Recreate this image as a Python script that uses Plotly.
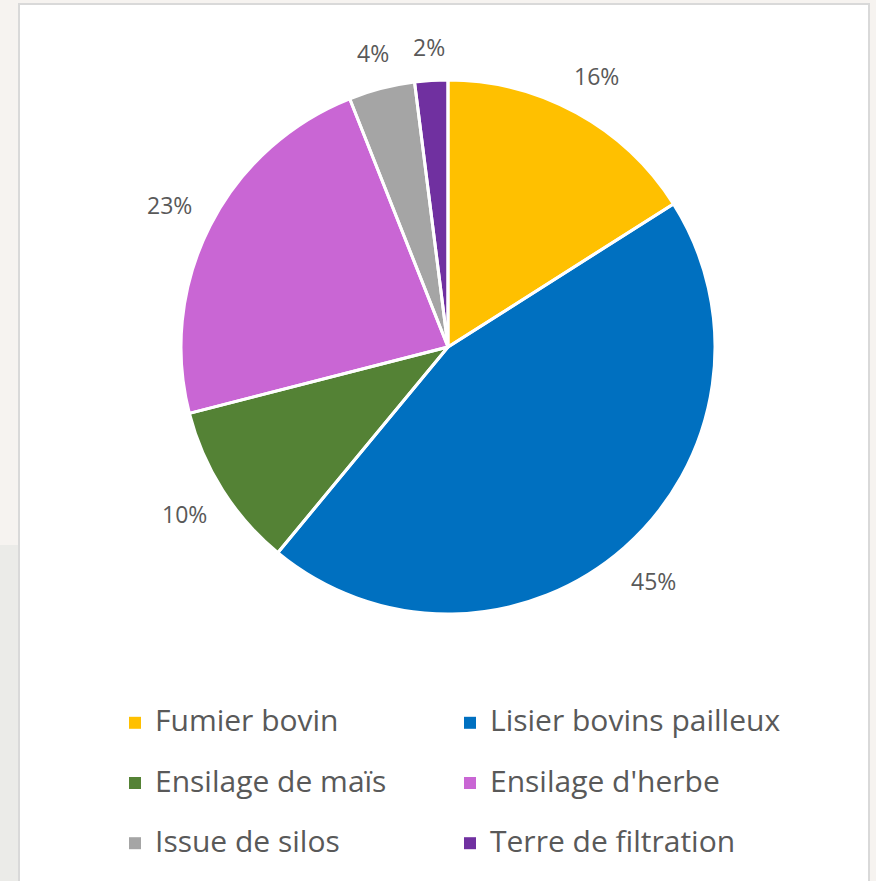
import math
import plotly.graph_objects as go

# Composition of the feedstock mix (share of total, %)
categories = [
    "Fumier bovin",
    "Lisier bovins pailleux",
    "Ensilage de maïs",
    "Ensilage d'herbe",
    "Issue de silos",
    "Terre de filtration",
]
shares = [16, 45, 10, 23, 4, 2]
slice_colors = ["#FFC000", "#0070C0", "#548235", "#C966D4", "#A5A5A5", "#7030A0"]

W, H = 876, 881
cx, cy, r = 448, 347, 267  # pie centre and radius in pixels
TEXT_GREY = "#595959"
FONT = "Open Sans, sans-serif"

pie_domain = dict(
    x=[(cx - r) / W, (cx + r) / W],
    y=[(H - cy - r) / H, (H - cy + r) / H],
)

# Legend entries: 30px text on a taller (two-line) row so rows sit 60px apart
legend_names = [
    f'<span style="font-size:30px">{c}</span><br> ' for c in categories
]

fig = go.Figure()

# filled slices (these also feed the legend, with full-size swatches)
fig.add_trace(
    go.Pie(
        labels=legend_names,
        values=shares,
        sort=False,
        direction="clockwise",
        rotation=0,
        marker=dict(colors=slice_colors, line=dict(width=0)),
        textinfo="none",
        domain=pie_domain,
        hoverinfo="skip",
    )
)

# white separators between the slices
fig.add_trace(
    go.Pie(
        labels=categories,
        values=shares,
        sort=False,
        direction="clockwise",
        rotation=0,
        marker=dict(colors=["rgba(0,0,0,0)"] * len(shares), line=dict(color="white", width=3)),
        textinfo="none",
        domain=pie_domain,
        hoverinfo="skip",
        showlegend=False,
    )
)

# Percentage labels placed just outside each slice, along its mid-angle
total = sum(shares)
label_size = 23
gap = 19
annotations = []
cum = 0.0
for v in shares:
    mid = math.radians((cum + v / 2) / total * 360.0)
    cum += v
    s, c = math.sin(mid), math.cos(mid)
    txt = f"{v}%"
    half_w = 0.65 * label_size * len(txt) / 2
    half_h = 14
    d = r + gap + half_w * abs(s) + half_h * abs(c)
    annotations.append(
        dict(
            x=(cx + d * s) / W,
            y=(H - cy + d * c) / H,
            xref="paper",
            yref="paper",
            text=txt,
            showarrow=False,
            xanchor="center",
            yanchor="middle",
            font=dict(family=FONT, size=label_size, color=TEXT_GREY),
        )
    )

# page background, white card and its grey frame
shapes = [
    dict(type="rect", xref="paper", yref="paper", x0=0, x1=19 / W, y0=0, y1=(H - 545) / H,
         fillcolor="#EBEBE8", line=dict(width=0), layer="below"),
    dict(type="rect", xref="paper", yref="paper", x0=19 / W, x1=869 / W, y0=-0.02, y1=(H - 4) / H,
         fillcolor="white", line=dict(color="#D9D9D9", width=2), layer="below"),
]

fig.update_layout(
    width=W,
    height=H,
    margin=dict(l=0, r=0, t=0, b=0, autoexpand=False),
    paper_bgcolor="#F6F3F0",
    plot_bgcolor="white",
    shapes=shapes,
    annotations=annotations,
    showlegend=True,
    legend=dict(
        orientation="h",
        x=115 / W,
        xanchor="left",
        y=(H - 702) / H,
        yanchor="top",
        entrywidth=290,
        entrywidthmode="pixels",
        valign="top",
        font=dict(family=FONT, size=22, color=TEXT_GREY),
        bgcolor="rgba(0,0,0,0)",
        itemclick=False,
    ),
)

fig.write_html("out.html")
